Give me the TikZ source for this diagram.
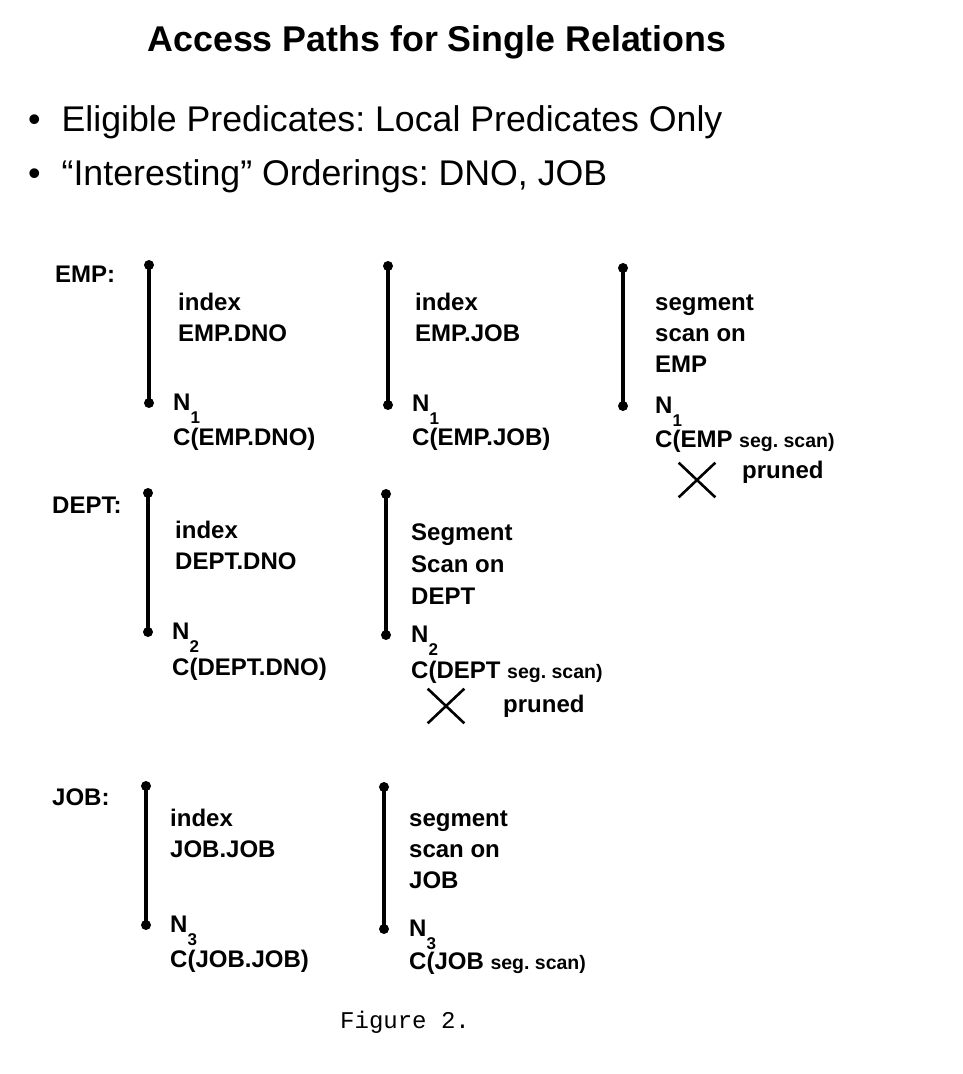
\documentclass[tikz,border=0pt]{standalone}
\usepackage{fontspec}
\setmainfont{Liberation Sans}
\newfontfamily\monofam{Liberation Mono}
\usetikzlibrary{shapes.misc}
\frenchspacing
\newcommand\accpath[4]{%
  \node[dotnode] (#1t) at (#2,#3) {};
  \node[dotnode] (#1b) at (#2,#4) {};
  \draw[pathline] (#1t.center) -- (#1b.center);}
\newcommand\subn[1]{N\raisebox{-13pt}{\fontsize{17}{17}\selectfont #1}}
\newcommand\segsz{\fontsize{19.5}{22}\selectfont}
\begin{document}
\begin{tikzpicture}[x=1pt,y=-1pt,
  dotnode/.style={circle,fill=black,inner sep=0pt,minimum size=10pt},
  pathline/.style={line width=3.6pt},
  lbl/.style={anchor=base west,inner sep=0pt,font=\fontsize{24}{28}\selectfont\bfseries},
  xmark/.style={draw,cross out,line width=2.6pt,minimum width=34pt,minimum height=32pt,inner sep=0pt},
  title/.style={anchor=base,inner sep=0pt,font=\fontsize{35.8}{40}\selectfont\bfseries},
  bullet/.style={anchor=base west,inner sep=0pt,font=\fontsize{35.7}{40}\selectfont}]
\useasboundingbox[fill=white] (0,0) rectangle (962,1074);

\node[title] (ttl) at (437,51) {Access Paths for Single Relations};
\node[bullet] (b1) at (28,131) {\textbullet\hspace{21pt}Eligible Predicates: Local Predicates Only};
\node[bullet] (b2) at (28,185) {\textbullet\hspace{21pt}“Interesting” Orderings: DNO, JOB};

% EMP
\node[lbl] (lemp) at (55,282) {EMP:};
\accpath{ea}{149}{265}{403}
\node[lbl] (ea1) at (178,310) {index};
\node[lbl] (ea2) at (178,341) {EMP.DNO};
\node[lbl] (ean) at (173,410) {\subn{1}};
\node[lbl] (eac) at (173,445) {C(EMP.DNO)};

\accpath{eb}{388}{266}{405}
\node[lbl] (eb1) at (415,310) {index};
\node[lbl] (eb2) at (415,341) {EMP.JOB};
\node[lbl] (ebn) at (412,411) {\subn{1}};
\node[lbl] (ebc) at (412,445) {C(EMP.JOB)};

\accpath{ec}{623}{268}{406}
\node[lbl] (ec1) at (655,310) {segment};
\node[lbl] (ec2) at (655,341) {scan on};
\node[lbl] (ec3) at (655,372) {EMP};
\node[lbl] (ecn) at (655,413) {\subn{1}};
\node[lbl] (ecc) at (655,447) {C(EMP {\segsz seg. scan)}};
\node[xmark] (ecx) at (697,480) {};
\node[lbl] (ecp) at (742,478) {pruned};

% DEPT
\node[lbl] (ldept) at (52,513) {DEPT:};
\accpath{da}{148}{493}{632}
\node[lbl] (da1) at (175,538) {index};
\node[lbl] (da2) at (175,569) {DEPT.DNO};
\node[lbl] (dan) at (172,639) {\subn{2}};
\node[lbl] (dac) at (172,675) {C(DEPT.DNO)};

\accpath{db}{386}{494}{635}
\node[lbl] (db1) at (411,540) {Segment};
\node[lbl] (db2) at (411,572) {Scan on};
\node[lbl] (db3) at (411,604) {DEPT};
\node[lbl] (dbn) at (411,642) {\subn{2}};
\node[lbl] (dbc) at (411,678) {C(DEPT {\segsz seg. scan)}};
\node[xmark] (dbx) at (446,706) {};
\node[lbl] (dbp) at (503,712) {pruned};

% JOB
\node[lbl] (ljob) at (52,805) {JOB:};
\accpath{ja}{146}{786}{925}
\node[lbl] (ja1) at (170,826) {index};
\node[lbl] (ja2) at (170,857) {JOB.JOB};
\node[lbl] (jan) at (170,932) {\subn{3}};
\node[lbl] (jac) at (170,967) {C(JOB.JOB)};

\accpath{jb}{384}{787}{929}
\node[lbl] (jb1) at (409,826) {segment};
\node[lbl] (jb2) at (409,857) {scan on};
\node[lbl] (jb3) at (409,888) {JOB};
\node[lbl] (jbn) at (409,936) {\subn{3}};
\node[lbl] (jbc) at (409,969) {C(JOB {\segsz seg. scan)}};

\node[anchor=base west,inner sep=0pt,font=\fontsize{24}{28}\selectfont\monofam] (fig) at (340,1028) {Figure 2.};
\end{tikzpicture}
\end{document}
